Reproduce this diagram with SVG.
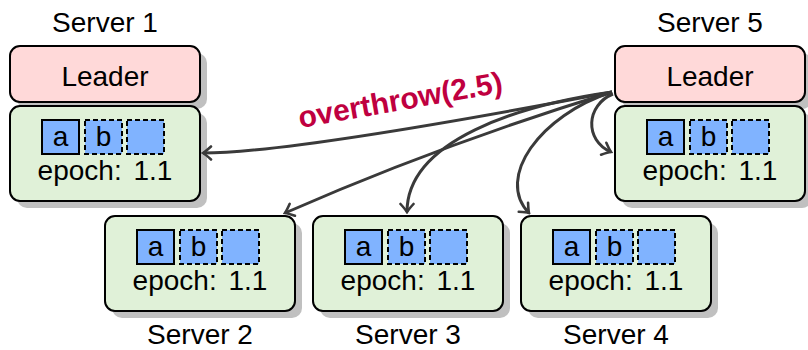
<svg xmlns="http://www.w3.org/2000/svg" width="808" height="350" viewBox="0 0 808 350">
<defs>
<style>
text{font-family:"Liberation Sans","DejaVu Sans",sans-serif;fill:#000}
.t{font-size:28px;text-anchor:middle}
.shadow{fill:#c0c0c0}
.leader{fill:#ffd9d9;stroke:#000;stroke-width:2}
.state{fill:#e0f1d8;stroke:#000;stroke-width:2}
.sq{fill:#80b3ff;stroke:#000;stroke-width:2}
.sqd{fill:#80b3ff;stroke:#000;stroke-width:2;stroke-dasharray:5 3}
.edge{fill:none;stroke:#3a3a3a;stroke-width:3;marker-end:url(#arr)}
.lbl{font-size:30px;font-weight:bold;fill:#bf0040;text-anchor:middle}
</style>
<marker id="arr" viewBox="-10 -8 12 16" markerWidth="12" markerHeight="16" refX="0" refY="0" orient="auto" markerUnits="userSpaceOnUse">
<path d="M-8,-6.5 Q-2.5,-1.5 0,0 Q-2.5,1.5 -8,6.5" fill="none" stroke="#3a3a3a" stroke-width="2.6" stroke-linecap="round"/>
</marker>
<g id="state">
<rect class="shadow" x="7" y="7" width="190" height="95" rx="10"/>
<rect class="state" x="0" y="0" width="190" height="95" rx="10"/>
<rect class="sq" x="32" y="14" width="37" height="34"/>
<rect class="sqd" x="75" y="14" width="37" height="34"/>
<rect class="sqd" x="117" y="14" width="37" height="34"/>
<text class="t" x="50.5" y="40">a</text>
<text class="t" x="93.5" y="40">b</text>
<text class="t" x="95" y="74" word-spacing="4">epoch: 1.1</text>
</g>
<g id="leaderbox">
<rect class="shadow" x="7" y="7" width="190" height="56" rx="10"/>
<rect class="leader" x="0" y="0" width="190" height="56" rx="10"/>
<text class="t" x="95" y="40">Leader</text>
</g>
</defs>

<g id="server1" transform="translate(10,46)">
<use href="#leaderbox"/>
<use href="#state" y="60"/>
<text class="t" x="95" y="-14">Server 1</text>
</g>

<g id="server5" transform="translate(615,46)">
<use href="#leaderbox"/>
<use href="#state" y="60"/>
<text class="t" x="95" y="-14">Server 5</text>
</g>

<g id="server2" transform="translate(105,216)">
<use href="#state"/>
<text class="t" x="95" y="128">Server 2</text>
</g>

<g id="server3" transform="translate(313,216)">
<use href="#state"/>
<text class="t" x="95" y="128">Server 3</text>
</g>

<g id="server4" transform="translate(521,216)">
<use href="#state"/>
<text class="t" x="95" y="128">Server 4</text>
</g>

<g id="connectors">
<path class="edge" d="M612,92 Q292,153 203,153"/>
<path class="edge" d="M612,92 Q440,145 285,213"/>
<path class="edge" d="M612,92 C520,105 407,140 407,212"/>
<path class="edge" d="M612,92 C540,115 495,178 529,213"/>
<path class="edge" d="M613,94 C586,105 584,140 611,152"/>
<text class="lbl" x="402" y="110" transform="rotate(-10 402 110)">overthrow(2.5)</text>
</g>
</svg>
